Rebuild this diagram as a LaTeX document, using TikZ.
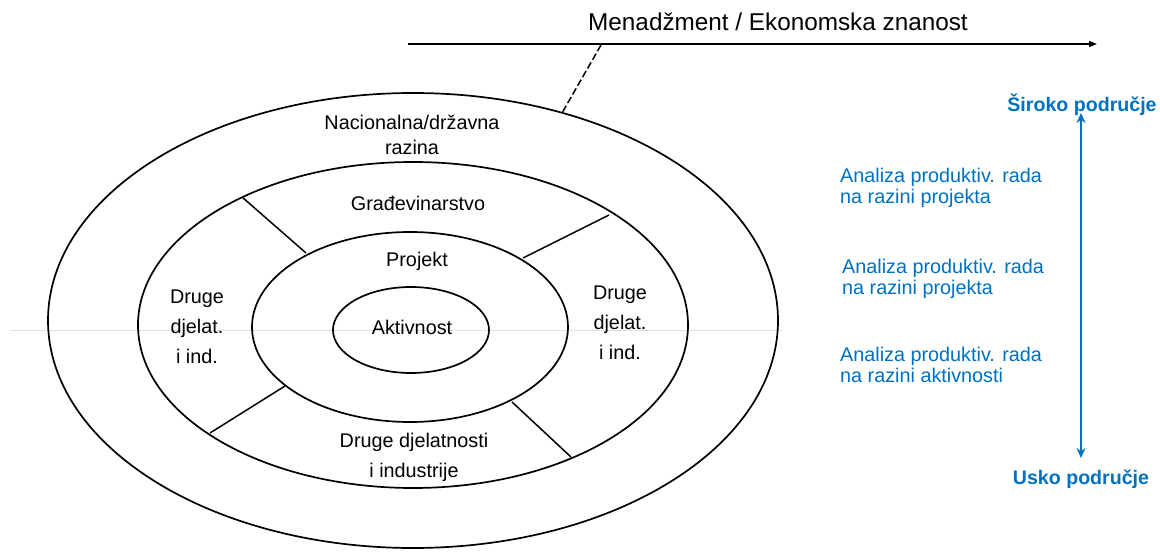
\documentclass[tikz,border=0pt]{standalone}
\usepackage{fontspec}
\setmainfont{Liberation Sans}
\usetikzlibrary{arrows.meta}
\definecolor{bluetxt}{HTML}{0070C0}
\begin{document}
\begin{tikzpicture}[x=1pt,y=-1pt,
  ring/.style={line width=1.7pt},
  spoke/.style={line width=1.5pt},
  lbl/.style={font=\fontsize{19.8}{30}\selectfont, align=center, inner sep=0pt},
  bluelbl/.style={font=\fontsize{19.8}{21}\selectfont, text=bluetxt, align=left, anchor=west, inner sep=0pt},
  bluehead/.style={font=\bfseries\fontsize{19.6}{20}\selectfont, text=bluetxt, inner sep=0pt}]
\useasboundingbox (0,0) rectangle (1160,553);
% faint scan line
\draw[black!12, line width=0.8pt] (10,330) -- (782,330);
% rings
\draw[ring] (413,320.5) ellipse [x radius=365, y radius=227.5];
\draw[ring] (413,325) ellipse [x radius=275, y radius=163];
\draw[ring] (410,327) ellipse [x radius=158, y radius=95];
\draw[ring] (411,330) ellipse [x radius=78, y radius=43];
% spokes
\draw[spoke] (242,197) -- (306,253);
\draw[spoke] (609,215) -- (523,258);
\draw[spoke] (210,433) -- (285,386);
\draw[spoke] (512,402) -- (571,457);
% top arrow
\coordinate (ta) at (408,44);
\coordinate (tb) at (1097,44);
\draw[line width=1.5pt, -{Triangle[length=8pt,width=6pt]}] (ta) -- (tb);
\node[font=\fontsize{24.3}{28}\selectfont, inner sep=0pt] (title) at (778,22) {Menadžment / Ekonomska znanost};
\coordinate (dtop) at (601,45);
\coordinate (dbot) at (562,113);
\draw[line width=1.5pt, dashed, dash pattern=on 7pt off 3pt] (dtop) -- (dbot);
% ring labels
\node[lbl] (nac) at (412,135) {Nacionalna/državna\\[-5pt]razina};
\node[lbl] (gra) at (418,203) {Građevinarstvo};
\node[lbl] (pro) at (417,261) {Projekt};
\node[lbl] (akt) at (412,327) {Aktivnost};
\node[lbl] (dl) at (197,327) {Druge\\djelat.\\i ind.};
\node[lbl] (dr) at (620,323) {Druge\\djelat.\\i ind.};
\node[lbl] (db) at (414,457) {Druge djelatnosti\\i industrije};
% right side
\node[bluehead] (sir) at (1082,105) {Široko područje};
\node[bluehead] (usk) at (1081,479) {Usko područje};
\draw[bluetxt, line width=2.6pt, {Stealth[length=10pt,width=9pt]}-{Stealth[length=10pt,width=9pt]}] (1081,113) -- (1081,458);
\node[bluelbl] (b1) at (840,187.5) {Analiza produktiv. rada\\na razini projekta};
\node[bluelbl] (b2) at (842,278.5) {Analiza produktiv. rada\\na razini projekta};
\node[bluelbl] (b3) at (840,364.5) {Analiza produktiv. rada\\na razini aktivnosti};
\end{tikzpicture}
\end{document}
